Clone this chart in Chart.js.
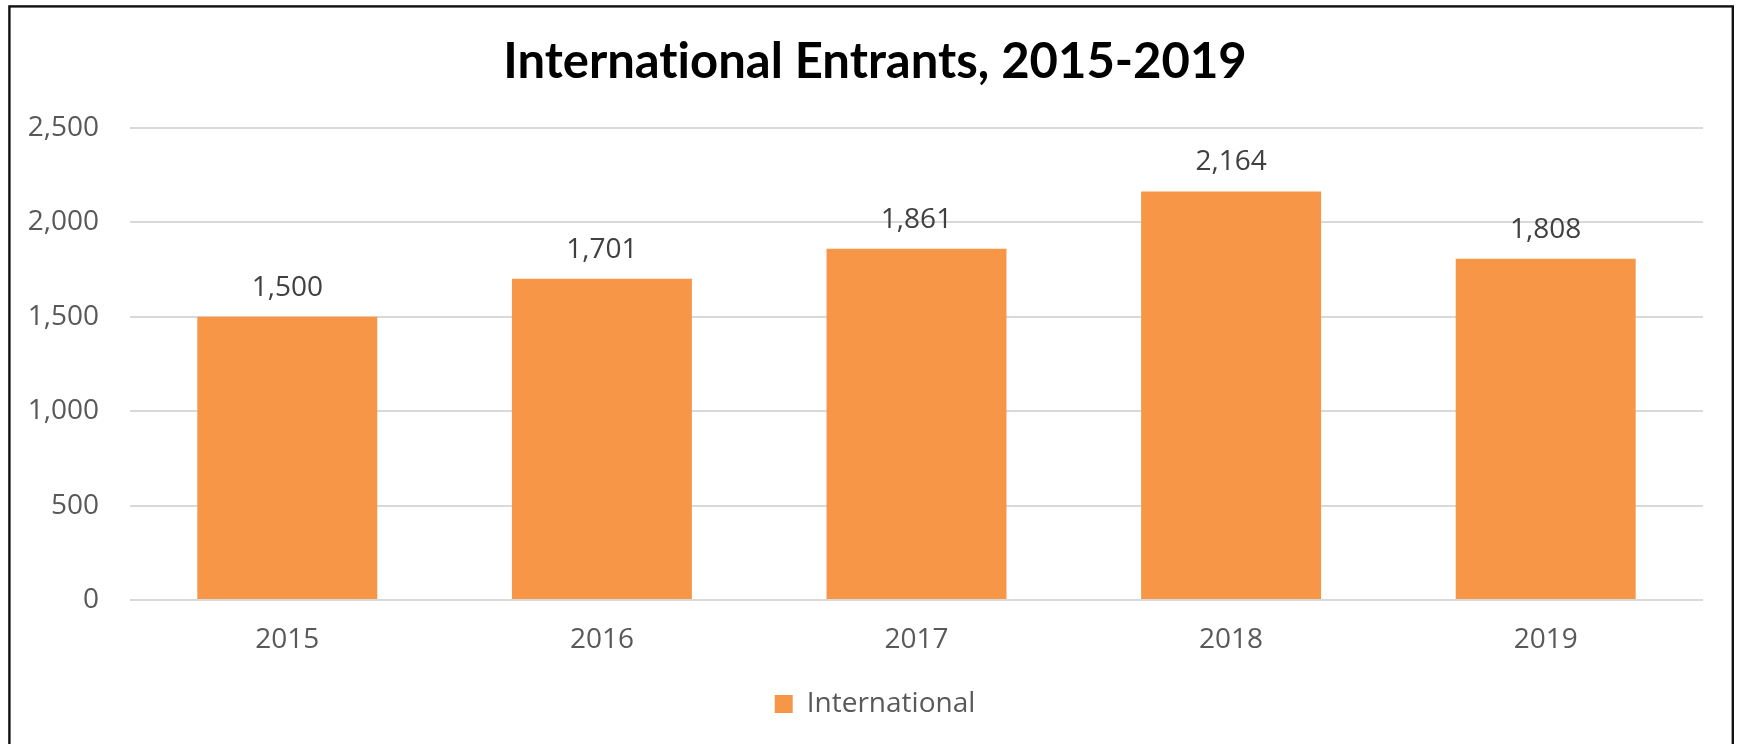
<!DOCTYPE html>
<html>
<head>
<meta charset="utf-8">
<title>International Entrants, 2015-2019</title>
<script src="https://cdn.jsdelivr.net/npm/chart.js@4/dist/chart.umd.min.js"></script>
<style>
  html, body { margin: 0; padding: 0; background: #ffffff; }
  #wrap { width: 1739px; height: 744px; position: relative; }
  canvas { display: block; }
</style>
</head>
<body>
<div id="wrap"><canvas id="chart" width="1739" height="744"></canvas></div>
<script>
// Chart data
const years = ['2015', '2016', '2017', '2018', '2019'];
const entrants = [1500, 1701, 1861, 2164, 1808];
const seriesName = 'International';
const chartTitle = 'International Entrants, 2015-2019';
const yMin = 0;
const yMax = 2500;
const yStep = 500;

const BAR_COLOR = '#F79646';
const GRID_COLOR = '#D9D9D9';
const TICK_COLOR = '#595959';
const VALUE_COLOR = '#404040';
const BODY_FONT = '"Open Sans", "Noto Sans", sans-serif';

const fmt = v => v.toLocaleString('en-US');

// White background with a thin dark frame around the whole chart
const framePlugin = {
  id: 'frame',
  beforeDraw(chart) {
    const ctx = chart.ctx;
    ctx.textRendering = 'optimizeSpeed';
    ctx.save();
    ctx.fillStyle = '#ffffff';
    ctx.fillRect(0, 0, chart.width, chart.height);
    ctx.strokeStyle = '#111111';
    ctx.lineWidth = 2.4;
    ctx.strokeRect(9.4, 6.4, 1723.4, chart.height + 20);
    ctx.restore();
  }
};

// Value labels above each bar
const valueLabels = {
  id: 'valueLabels',
  afterDatasetsDraw(chart) {
    const ctx = chart.ctx;
    ctx.save();
    ctx.font = '28px ' + BODY_FONT;
    ctx.fillStyle = VALUE_COLOR;
    ctx.textAlign = 'center';
    ctx.textBaseline = 'alphabetic';
    chart.data.datasets.forEach((ds, di) => {
      const meta = chart.getDatasetMeta(di);
      meta.data.forEach((bar, i) => {
        ctx.fillText(fmt(ds.data[i]), bar.x, bar.y - 21);
      });
    });
    ctx.restore();
  }
};

new Chart(document.getElementById('chart'), {
  type: 'bar',
  data: {
    labels: years,
    datasets: [{
      label: seriesName,
      data: entrants,
      backgroundColor: BAR_COLOR,
      borderWidth: 0,
      categoryPercentage: 1.0,
      barPercentage: 0.572
    }]
  },
  options: {
    responsive: false,
    animation: false,
    devicePixelRatio: 1,
    layout: { padding: { top: 0, left: 11, right: 0, bottom: 16 } },
    plugins: {
      title: {
        display: true,
        text: chartTitle,
        color: '#000000',
        font: { family: 'Lato, "Open Sans", sans-serif', size: 49, weight: 'bold', lineHeight: 1.2 },
        padding: { top: 32.6, bottom: 36.6 }
      },
      legend: {
        display: true,
        position: 'bottom',
        labels: {
          color: TICK_COLOR,
          font: { family: BODY_FONT, size: 28 },
          boxWidth: 18,
          boxHeight: 18,
          padding: 10
        }
      },
      tooltip: { enabled: false }
    },
    scales: {
      x: {
        grid: { display: false, drawTicks: false },
        border: { display: false },
        ticks: {
          color: TICK_COLOR,
          font: { family: BODY_FONT, size: 28 },
          padding: 23,
          maxRotation: 0
        },
        afterFit(scale) { scale.height = 80; }
      },
      y: {
        min: yMin,
        max: yMax,
        grid: { color: GRID_COLOR, lineWidth: 2, drawTicks: false },
        border: { display: false },
        ticks: {
          stepSize: yStep,
          color: TICK_COLOR,
          font: { family: BODY_FONT, size: 28 },
          padding: 31,
          callback: v => fmt(v)
        },
        afterFit(scale) { scale.width = 119; }
      },
      // empty margin on the right side of the plot
      yRight: {
        type: 'linear',
        position: 'right',
        display: true,
        grid: { display: false, drawTicks: false },
        border: { display: false },
        ticks: { display: false },
        afterFit(scale) { scale.width = 36; }
      }
    }
  },
  plugins: [framePlugin, valueLabels]
});
</script>
</body>
</html>
